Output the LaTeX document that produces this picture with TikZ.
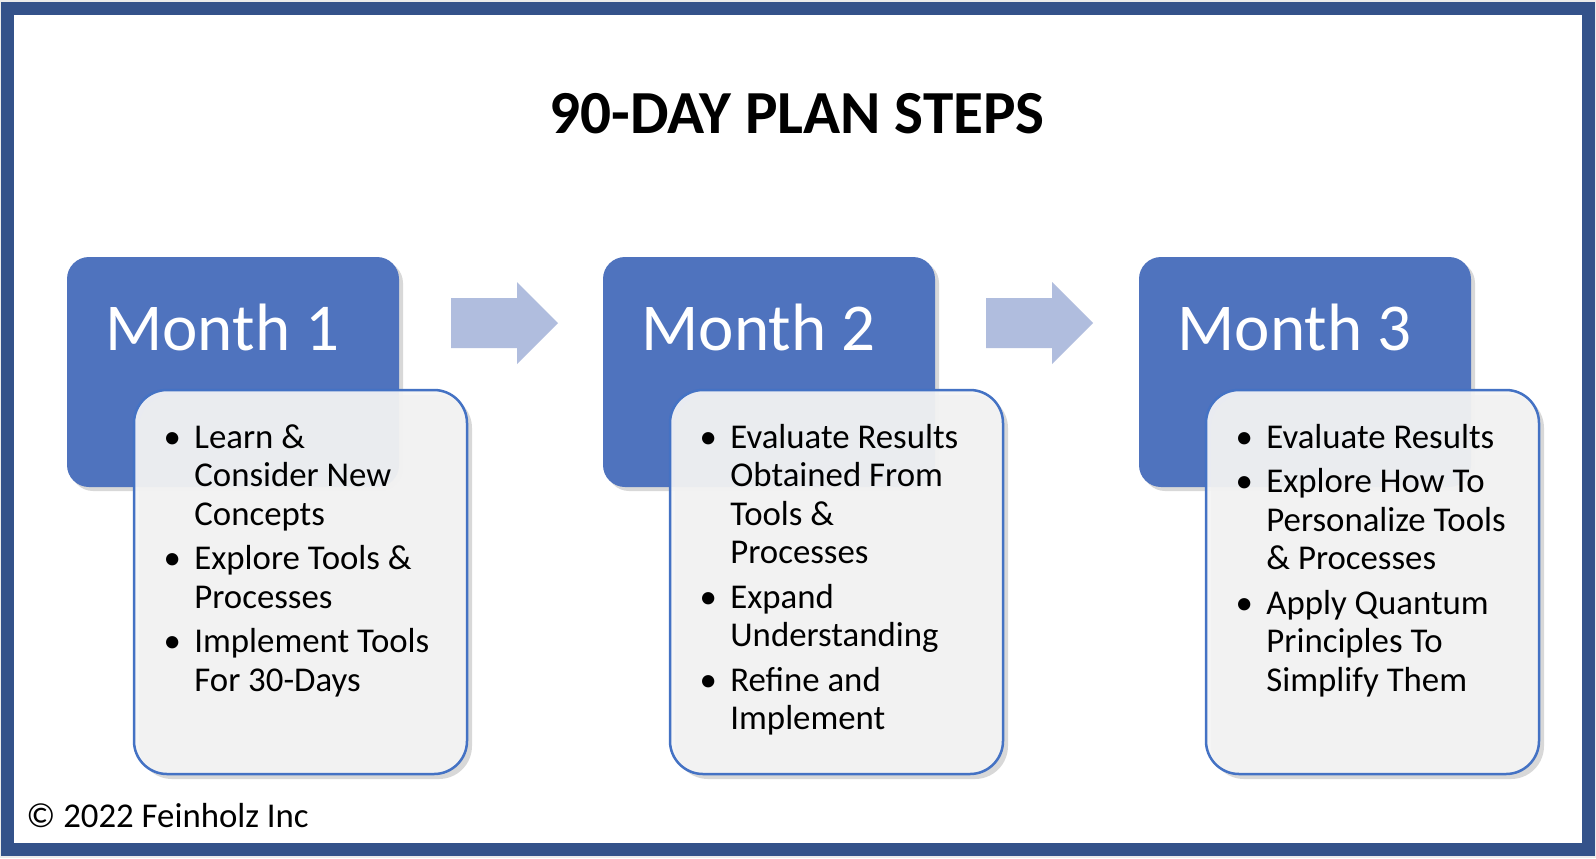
\documentclass[tikz,border=0pt]{standalone}
\usepackage{fontspec}
\setmainfont{Carlito}
\usetikzlibrary{shadows}
\definecolor{frameblue}{RGB}{52,82,138}
\definecolor{monthblue}{RGB}{79,115,190}
\definecolor{edgeblue}{RGB}{68,114,196}
\definecolor{arrowblue}{RGB}{176,189,222}
\definecolor{boxgray}{RGB}{245,245,245}
\newcommand{\pbul}{\makebox[22pt]{\textbullet}}
\begin{document}
\begin{tikzpicture}[x = 0.5pt, y = -0.5pt,
  monthbox/.style = {fill = monthblue, rounded corners = 11pt, minimum width = 166pt, minimum height = 115pt, inner sep = 0pt,
    drop shadow = {shadow xshift = 2pt, shadow yshift = -2pt, opacity = 0.3}},
  monthlbl/.style = {text = white, font = \fontsize{33.5}{40}\selectfont, inner sep = 0pt, anchor = base west},
  listbox/.style = {fill = boxgray, fill opacity = 0.93, draw = edgeblue, line width = 1.25pt, rounded corners = 16.5pt,
    minimum width = 166.5pt, minimum height = 192pt, inner sep = 0pt,
    drop shadow = {shadow xshift = 2.5pt, shadow yshift = -2.5pt, opacity = 0.3}},
  listtxt/.style = {font = \fontsize{17.4}{19.25}\selectfont, inner sep = 0pt, anchor = north west}]
\useasboundingbox (0,0) rectangle (1596,858);
\fill[black!8] (0,0) rectangle (1596,858);
\filldraw[fill = white, draw = frameblue, line width = 6.5pt] (7.5,8.5) rectangle (1588.5,849.5);
\node[font = \fontsize{30.6}{36}\selectfont\bfseries, anchor = base] (title) at (797,133) {90-DAY PLAN STEPS};
\node[font = \fontsize{17.4}{20}\selectfont, inner sep = 0pt, anchor = base west] (copy) at (26,827) {© 2022 Feinholz Inc};
% arrows
\fill[arrowblue] (451,298) -- (517,298) -- (517,282) -- (558,323) -- (517,364) -- (517,348) -- (451,348) -- cycle;
\fill[arrowblue] (986,298) -- (1052,298) -- (1052,282) -- (1093,323) -- (1052,364) -- (1052,348) -- (986,348) -- cycle;
% month 1
\node[monthbox] (m1) at (233,372) {};
\node[monthlbl] (l1) at (105,350) {Month 1};
\node[listbox] (b1) at (300.5,582) {};
\node[listtxt] (t1) at (150,421) {\begin{tabular}{@{}c@{}l@{}}
\pbul & Learn \& \\
 & Consider New \\
 & Concepts \\[3pt]
\pbul & Explore Tools \& \\
 & Processes \\[3pt]
\pbul & Implement Tools \\
 & For 30-Days
\end{tabular}};
% month 2
\begin{scope}[shift = {(536,0)}]
\node[monthbox] (m2) at (233,372) {};
\node[monthlbl] (l2) at (105,350) {Month 2};
\node[listbox] (b2) at (300.5,582) {};
\node[listtxt] (t2) at (150,421) {\begin{tabular}{@{}c@{}l@{}}
\pbul & Evaluate Results \\
 & Obtained From \\
 & Tools \& \\
 & Processes \\[3pt]
\pbul & Expand \\
 & Understanding \\[3pt]
\pbul & Refine and \\
 & Implement
\end{tabular}};
\end{scope}
% month 3
\begin{scope}[shift = {(1072,0)}]
\node[monthbox] (m3) at (233,372) {};
\node[monthlbl] (l3) at (105,350) {Month 3};
\node[listbox] (b3) at (300.5,582) {};
\node[listtxt] (t3) at (150,421) {\begin{tabular}{@{}c@{}l@{}}
\pbul & Evaluate Results \\[3pt]
\pbul & Explore How To \\
 & Personalize Tools \\
 & \& Processes \\[3pt]
\pbul & Apply Quantum \\
 & Principles To \\
 & Simplify Them
\end{tabular}};
\end{scope}
\end{tikzpicture}
\end{document}
